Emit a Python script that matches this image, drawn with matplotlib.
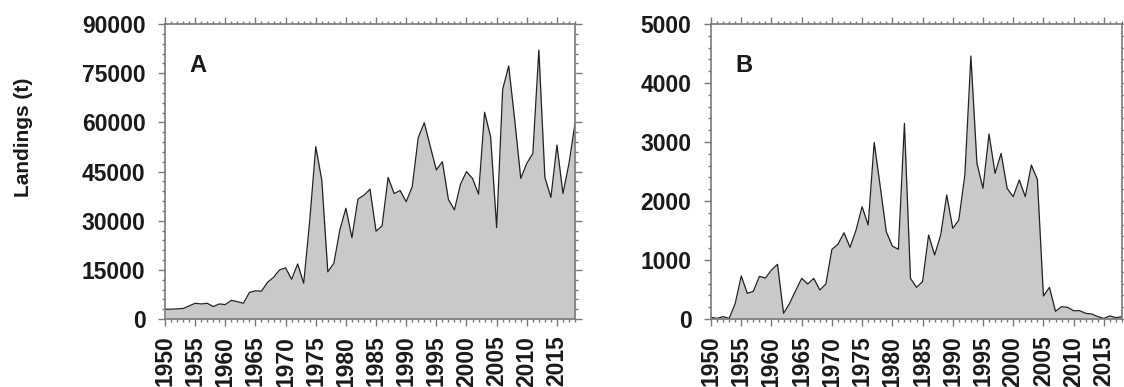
import numpy as np
import matplotlib.pyplot as plt
from matplotlib.ticker import MultipleLocator

plt.rcParams['font.family'] = ['Liberation Sans', 'DejaVu Sans']

years = np.arange(1950, 2019)

# panel A landings (t)
landings_a = [
    3000, 3000, 3100, 3200, 4000, 4800, 4600, 4800, 3800, 4600,
    4400, 5700, 5300, 4800, 8100, 8600, 8500, 11200, 12700, 15000,
    15600, 12100, 16800, 10900, 30000, 52600, 42400, 14400, 17000, 27200,
    33800, 24800, 36600, 37800, 39600, 26800, 28400, 43200, 38300, 39200,
    35800, 40400, 55400, 59900, 52600, 45500, 48000, 36500, 33300, 41100,
    45000, 42900, 38100, 63100, 55600, 27900, 70100, 77200, 60700, 42900,
    47500, 50500, 82100, 43200, 37100, 53100, 38300, 47500, 59700,
]

# panel B landings (t)
landings_b = [
    28, 11, 40, 11, 265, 729, 435, 469, 723, 695,
    830, 927, 96, 265, 480, 689, 593, 689, 492, 593,
    1181, 1266, 1463, 1215, 1509, 1904, 1593, 2995, 2243, 1480,
    1237, 1181, 3317, 689, 537, 633, 1424, 1085, 1424, 2102,
    1537, 1678, 2441, 4458, 2639, 2215, 3136, 2469, 2808, 2215,
    2074, 2356, 2074, 2610, 2367, 390, 537, 130, 209, 198,
    141, 141, 96, 85, 40, 11, 51, 23, 40,
]

panels = [
    ("A", landings_a, 90000, 15000, 3000),
    ("B", landings_b, 5000, 1000, 200),
]

fig = plt.figure(figsize=(11.24, 3.87), dpi=100)
ax_a = fig.add_axes([0.1468, 0.1757, 0.3648, 0.762])
ax_b = fig.add_axes([0.6326, 0.1757, 0.3656, 0.762])

spine_col = "#7a7a7a"
for ax, (letter, vals, ymax, major, minor) in zip([ax_a, ax_b], panels):
    ax.fill_between(years, vals, 0, color="#c8c9cb", lw=0)
    ax.plot(years, vals, color="#222222", lw=0.9)
    ax.set_xlim(1950, 2018)
    ax.set_ylim(0, ymax)
    ax.xaxis.set_major_locator(MultipleLocator(5))
    ax.xaxis.set_minor_locator(MultipleLocator(1))
    ax.yaxis.set_major_locator(MultipleLocator(major))
    ax.yaxis.set_minor_locator(MultipleLocator(minor))
    ax.tick_params(which="both", direction="out", top=True, right=True,
                   color=spine_col, width=1.0)
    ax.tick_params(which="major", length=5)
    ax.tick_params(which="minor", length=2.5)
    ax.tick_params(axis="x", labelrotation=90, pad=7)
    ax.tick_params(axis="y", pad=9)
    for lab in ax.get_xticklabels() + ax.get_yticklabels():
        lab.set_fontsize(16.5)
        lab.set_fontweight("bold")
        lab.set_color("#1a1a1a")
    for sp in ax.spines.values():
        sp.set_color(spine_col)
        sp.set_linewidth(1.2)
    ax.text(0.06, 0.86, letter, transform=ax.transAxes, fontsize=17,
            fontweight="bold", va="center", ha="left", color="#1a1a1a")

fig.text(0.0205, 0.645, "Landings (t)", rotation=90, fontsize=15,
         fontweight="bold", va="center", ha="center", color="#1a1a1a")

fig.savefig("out.png", dpi=100)
